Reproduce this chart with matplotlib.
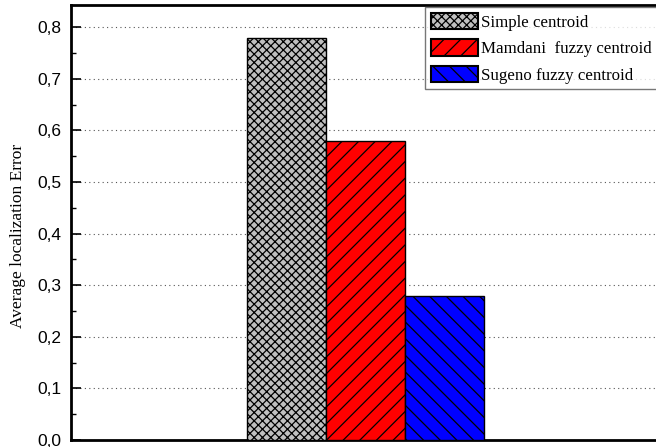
import matplotlib
matplotlib.use("Agg")
import matplotlib.pyplot as plt
from matplotlib.ticker import FuncFormatter, MultipleLocator

methods = ["Simple centroid", "Mamdani  fuzzy centroid", "Sugeno fuzzy centroid"]
errors = [0.78, 0.58, 0.28]
colors = ["#c0c0c0", "#ff0000", "#0000ff"]
hatches = ["xxxx", "//", "\\\\"]
offsets = [-1, 0, 1]

plt.rcParams["hatch.linewidth"] = 0.9
plt.rcParams["hatch.color"] = "black"

fig = plt.figure(figsize=(6.56, 4.47), dpi=100)
ax = fig.add_axes([71/656, 7/447, (668-71)/656, 435/447])

for m, v, c, h, o in zip(methods, errors, colors, hatches, offsets):
    ax.bar(o, v, width=1.0, color=c, hatch=h, edgecolor="black", linewidth=1.0,
           label=m, zorder=3)

ax.set_xlim(-3.73, 3.83)
ax.set_ylim(0, 0.843)
ax.yaxis.set_major_locator(MultipleLocator(0.1))
ax.yaxis.set_minor_locator(MultipleLocator(0.05))
ax.yaxis.set_major_formatter(FuncFormatter(lambda v, p: f"{v:.1f}".replace(".", ",")))
ax.set_xticks([])
ax.tick_params(axis="y", which="major", direction="in", length=7, width=1.2,
               labelsize=12.5, pad=7)
ax.tick_params(axis="y", which="minor", direction="in", length=3.5, width=1.0)
for lbl in ax.get_yticklabels():
    lbl.set_family("Liberation Sans")
ax.grid(axis="y", which="major", linestyle=(0, (1, 3)), color="#555555",
        linewidth=0.8, zorder=0)
for s in ["left", "bottom", "top"]:
    ax.spines[s].set_linewidth(2.0)
ax.spines["right"].set_visible(False)

ax.set_ylabel("Average localization Error", family="Liberation Serif", fontsize=12.5)
ax.yaxis.set_label_coords(-45/597, 0.47)

leg = fig.legend(loc="upper left", bbox_to_anchor=(425/656, 1 - 7/447),
                 borderaxespad=0, frameon=True, fancybox=False,
                 prop={"family": "Liberation Serif", "size": 12.2},
                 handlelength=2.75, handleheight=1.1, handletextpad=0.22,
                 labelspacing=0.5, borderpad=0.35)
leg.get_frame().set_edgecolor("#555555")
leg.get_frame().set_linewidth(1.0)
for p in leg.get_patches():
    p.set_linewidth(1.5)

fig.savefig("out.png", dpi=100)
